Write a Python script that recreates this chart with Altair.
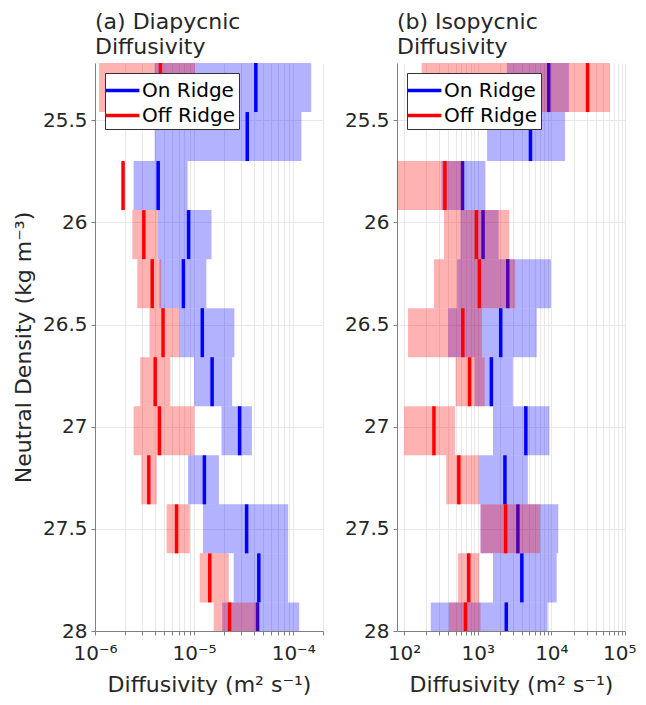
import altair as alt
import pandas as pd

# density bins (kg m^-3): top and bottom edges of each bin
bin_top = [25.22, 25.46, 25.70, 25.94, 26.18, 26.42, 26.66, 26.90, 27.14, 27.38, 27.62, 27.86]
bin_bottom = [25.46, 25.70, 25.94, 26.18, 26.42, 26.66, 26.90, 27.14, 27.38, 27.62, 27.86, 28.10]

# (a) diapycnic diffusivity (m^2 s^-1): low / median / high
dia_on_low = [4.0e-6, 4.0e-6, 2.45e-6, 4.3e-6, 4.47e-6, 7.1e-6, 1.0e-5, 1.89e-5, 8.7e-6, 1.23e-5, 2.51e-5, 1.92e-5]
dia_on_med = [4.2e-5, 3.44e-5, 4.34e-6, 8.8e-6, 7.8e-6, 1.21e-5, 1.52e-5, 2.88e-5, 1.27e-5, 3.39e-5, 4.5e-5, 4.37e-5]
dia_on_high = [1.52e-4, 1.21e-4, 8.6e-6, 1.5e-5, 1.33e-5, 2.55e-5, 2.42e-5, 3.83e-5, 1.78e-5, 8.9e-5, 8.9e-5, 1.15e-4]
dia_off_low = [1.1e-6, None, 1.92e-6, 2.38e-6, 2.67e-6, 3.55e-6, 2.86e-6, 2.45e-6, 2.93e-6, 5.28e-6, 1.14e-5, 1.58e-5]
dia_off_med = [4.57e-6, None, 1.92e-6, 3.11e-6, 3.78e-6, 4.86e-6, 4.05e-6, 4.47e-6, 3.49e-6, 6.65e-6, 1.44e-5, 2.28e-5]
dia_off_high = [1.02e-5, None, 1.92e-6, 4.3e-6, 4.65e-6, 7.1e-6, 5.75e-6, 1.01e-5, 4.2e-6, 9.06e-6, 2.24e-5, 4.47e-5]

# (b) isopycnic diffusivity (m^2 s^-1): low / median / high
iso_on_low = [2490, 1340, 323, 583, 525, 397, 910, 1610, 1030, 1090, 1610, 230]
iso_on_med = [9200, 5200, 621, 1180, 2560, 2050, 1530, 4500, 2340, 3510, 3970, 2440]
iso_on_high = [17300, 15300, 1270, 1920, 9900, 6320, 3000, 9400, 4790, 12400, 11800, 8900]
iso_off_low = [173, None, 63, 348, 254, 113, 500, 100, 373, 1090, 537, 406]
iso_off_med = [31000, None, 358, 959, 1050, 627, 773, 254, 553, 2390, 755, 682]
iso_off_high = [62100, None, 647, 2680, 3230, 1140, 1240, 489, 1030, 7030, 1050, 1090]

groups = ["On Ridge", "Off Ridge"]
group_colors = ["#0000ff", "#ff0000"]
y_ticks = [25.5, 26, 26.5, 27, 27.5, 28]

FONT = "DejaVu Sans"
TXT = "#262626"

SUP = {"-6": "\u207b\u2076", "-5": "\u207b\u2075", "-4": "\u207b\u2074",
       "2": "\u00b2", "3": "\u00b3", "4": "\u2074", "5": "\u2075"}


def make_df(on, off):
    rows = []
    for g, (lo, me, hi) in zip(groups, [on, off]):
        for i in range(len(bin_top)):
            if me[i] is None:
                continue
            rows.append({"group": g, "top": bin_top[i], "bottom": bin_bottom[i],
                         "low": lo[i], "med": me[i], "high": hi[i]})
    return pd.DataFrame(rows)


def minor_ticks(e0, e1, vmax):
    vals = []
    for e in range(e0, e1 + 1):
        for m in range(1, 10):
            v = float(f"{m}e{e}")
            if v <= vmax * 1.0001:
                vals.append(v)
    return vals


def label_expr(decades):
    expr = "''"
    for e in reversed(decades):
        expr = f"(round(log(datum.value)/LN10*100) == {e*100}) ? '10{SUP[str(e)]}' : " + expr
    return expr


def panel(df, domain, e0, e1, title, ytitle, flush):
    xscale = alt.Scale(type="log", domain=domain, nice=False)
    xaxis_kw = dict(values=minor_ticks(e0, e1, domain[1]), labelExpr=label_expr(list(range(e0, e1 + 1))),
                    title="Diffusivity (m\u00b2 s\u207b\u00b9)", grid=True, tickSize=4,
                    labelPadding=8, titlePadding=11, labelFontSize=20)
    if flush:
        xaxis_kw.update(labelFlush=True, labelFlushOffset=11)
    else:
        xaxis_kw.update(labelFlush=False)
    xaxis = alt.Axis(**xaxis_kw)
    yscale = alt.Scale(domain=[25.22, 28], reverse=True, nice=False, zero=False)
    yaxis = alt.Axis(values=y_ticks, format=".1~f", title=ytitle, grid=True, tickSize=4,
                     labelPadding=4, titlePadding=7, labelFontSize=20)
    cscale = alt.Scale(domain=groups, range=group_colors)
    legend = alt.Legend(title=None, orient="top-left", offset=10, fillColor="white",
                        strokeColor="#333333", padding=3, symbolType="M-1.35,0H1.35",
                        symbolSize=625, symbolStrokeWidth=3.5, labelFontSize=20, labelFont=FONT,
                        labelColor="#000000", rowPadding=0, labelOffset=5, symbolOpacity=1)
    base = alt.Chart(df)
    layers = []
    for g, col in zip(groups, group_colors):
        sub = base.transform_filter(alt.datum.group == g)
        bars = sub.mark_rect(opacity=0.3, clip=True, strokeWidth=0).encode(
            x=alt.X("low:Q", scale=xscale, axis=xaxis),
            x2="high:Q",
            y=alt.Y("top:Q", scale=yscale, axis=yaxis),
            y2="bottom:Q",
            color=alt.value(col),
        )
        lines = sub.mark_rule(strokeWidth=3.5, clip=True).encode(
            x=alt.X("med:Q", scale=xscale, axis=xaxis),
            y=alt.Y("top:Q", scale=yscale, axis=yaxis),
            y2="bottom:Q",
            color=alt.Color("group:N", scale=cscale, legend=legend),
        )
        layers += [bars, lines]
    return alt.layer(*layers).properties(
        width=228, height=568,
        title=alt.TitleParams(text=title, anchor="start", frame="group", fontSize=22,
                              fontWeight="normal", color=TXT, font=FONT, lineHeight=25, offset=4),
    )


df_a = make_df((dia_on_low, dia_on_med, dia_on_high), (dia_off_low, dia_off_med, dia_off_high))
df_b = make_df((iso_on_low, iso_on_med, iso_on_high), (iso_off_low, iso_off_med, iso_off_high))

pa = panel(df_a, [1e-6, 2e-4], -6, -4, ["(a) Diapycnic", "Diffusivity"],
           "Neutral Density (kg m\u207b\u00b3)", False)
pb = panel(df_b, [80, 1e5], 2, 5, ["(b) Isopycnic", "Diffusivity"], None, True)

chart = alt.hconcat(pa, pb, spacing=20).resolve_scale(color="independent").resolve_legend(
    color="independent"
).configure(
    font=FONT, padding={"left": 4, "top": 3, "right": 0, "bottom": 0}
).configure_view(stroke=None).configure_axis(
    labelFontSize=20, titleFontSize=22, labelColor=TXT, titleColor=TXT, labelFont=FONT,
    titleFont=FONT, titleFontWeight="normal", domainColor="#808080", tickColor="#808080",
    gridColor="#e8e8e8", gridWidth=1,
)

chart.save("out.html", embed_options={"renderer": "svg", "actions": False})
